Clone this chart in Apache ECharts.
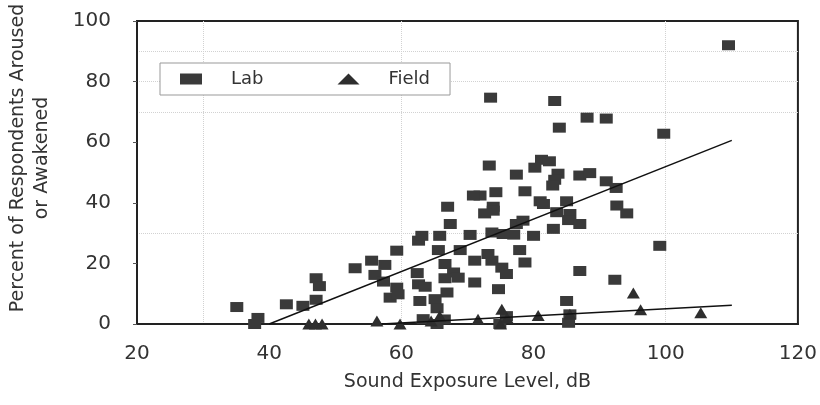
<!DOCTYPE html>
<html>
<head>
<meta charset="utf-8">
<script src="https://cdn.jsdelivr.net/npm/echarts@6/dist/echarts.min.js"></script>
<style>html,body{margin:0;padding:0;background:#fff}#c{width:820px;height:405px}</style>
</head>
<body>
<div id="c"></div>
<script>
// Lab (squares)
const labX = [35.1, 38.3, 37.8, 42.6, 45.1, 47.1, 47.1, 47.6, 53.0, 55.5, 57.5, 56.0, 57.3, 59.3, 58.3, 59.5, 59.3, 62.6, 63.1, 65.8,
  65.6, 68.9, 67.0, 67.4, 70.4, 71.1, 66.6, 67.9, 62.4, 66.6, 68.6, 71.1, 62.6, 63.6, 66.9, 62.8, 65.1, 65.4, 63.3, 65.4,
  66.5, 73.5, 83.2, 88.1, 91.0, 83.9, 73.3, 81.2, 82.4, 80.2, 77.4, 83.7, 83.2, 87.0, 88.5, 91.0, 92.5, 82.9, 78.7, 74.3,
  71.9, 70.9, 81.0, 85.0, 92.6, 73.9, 73.9, 72.6, 81.5, 83.5, 85.5, 85.3, 87.0, 77.4, 78.4, 83.0, 73.7, 75.4, 77.0, 80.0,
  77.9, 73.1, 73.7, 78.7, 75.2, 75.9, 87.0, 74.7, 92.3, 85.0, 85.5, 85.3, 74.9, 75.9, 109.5, 99.7, 94.1, 99.1];
const labY = [5.6, 2.0, 0.0, 6.5, 6.0, 8.0, 15.1, 12.5, 18.4, 20.9, 19.5, 16.2, 14.0, 12.0, 8.7, 9.8, 24.2, 27.5, 29.1, 29.1,
  24.4, 24.4, 38.7, 33.0, 29.4, 20.9, 19.8, 17.0, 16.8, 15.1, 15.3, 13.7, 13.1, 12.3, 10.4, 7.6, 8.2, 5.2, 1.6, 0.0,
  1.5, 74.7, 73.6, 68.1, 67.8, 64.8, 52.3, 54.2, 53.7, 51.6, 49.3, 49.6, 47.6, 49.0, 49.8, 47.1, 44.9, 45.7, 43.8, 43.5,
  42.4, 42.4, 40.5, 40.5, 39.1, 38.7, 37.4, 36.5, 39.6, 36.9, 36.3, 34.3, 33.0, 33.0, 34.1, 31.4, 30.2, 29.7, 29.5, 29.1,
  24.4, 23.1, 20.9, 20.3, 18.6, 16.5, 17.5, 11.5, 14.6, 7.6, 3.2, 0.4, 0.0, 2.6, 92.0, 62.8, 36.5, 25.8];
// Field (triangles)
const fieldX = [46.0, 47.0, 48.0, 56.3, 59.8, 64.5, 65.8, 71.6, 75.2, 75.0, 76.0, 80.7, 85.5, 95.1, 96.2, 105.3];
const fieldY = [0.0, 0.0, 0.0, 1.0, 0.0, 1.0, 2.6, 1.6, 4.9, 0.0, 2.0, 2.8, 3.2, 10.2, 4.7, 3.7];
// Fitted lines
const labFitX = [40, 110];
const labFitY = [0, 60.6];
const fieldFitX = [57, 110];
const fieldFitY = [0, 6.2];
// Axis ticks
const xTicks = [20, 40, 60, 80, 100, 120];
const yTicks = [0, 20, 40, 60, 80, 100];
// faint background guide lines seen in the scan
const vGuides = [30, 60, 100];
const hGuides = [30, 70, 80, 90];

const pairs = (xs, ys) => xs.map((x, i) => [x, ys[i]]);
const font = 'DejaVu Sans';

const chart = echarts.init(document.getElementById('c'), null, {renderer: 'canvas'});
chart.setOption({
  animation: false,
  backgroundColor: '#ffffff',
  grid: {left: 137, right: 22, top: 21, bottom: 81, show: true, borderColor: '#222', borderWidth: 2, backgroundColor: 'transparent'},
  legend: {
    left: 160, top: 63, orient: 'horizontal', z: 10,
    padding: [7, 20, 7, 20], itemGap: 74,
    itemWidth: 22, itemHeight: 11,
    borderColor: '#999', borderWidth: 1, backgroundColor: '#fff',
    textStyle: {fontFamily: font, fontSize: 18, color: '#333', padding: [0, 0, 0, 24]},
    data: [{name: 'Lab', icon: 'rect'}, {name: 'Field', icon: 'triangle'}]
  },
  xAxis: {
    type: 'value', min: xTicks[0], max: xTicks[xTicks.length - 1], interval: 20,
    name: 'Sound Exposure Level, dB', nameLocation: 'middle', nameGap: 49,
    nameTextStyle: {fontFamily: font, fontSize: 19, color: '#333'},
    axisLine: {show: true, onZero: false, lineStyle: {color: '#222', width: 2}},
    axisTick: {show: false},
    axisLabel: {fontFamily: font, fontSize: 20, color: '#333', margin: 20},
    splitLine: {show: false}
  },
  yAxis: {
    type: 'value', min: yTicks[0], max: yTicks[yTicks.length - 1], interval: 20,
    axisLine: {show: true, lineStyle: {color: '#222', width: 2}},
    axisTick: {show: true, inside: false, length: 4, lineStyle: {color: '#555'}},
    axisLabel: {fontFamily: font, fontSize: 20, color: '#333', margin: 26},
    splitLine: {show: false}
  },
  graphic: [{
    type: 'text', x: 30, y: 158, rotation: Math.PI / 2,
    style: {text: 'Percent of Respondents Aroused\nor Awakened', fontFamily: font, fontSize: 19, fill: '#333',
      align: 'center', verticalAlign: 'middle', lineHeight: 24}
  }],
  series: [
    {
      name: 'guides', type: 'line', data: [], silent: true, z: 0,
      markLine: {
        silent: true, symbol: 'none', label: {show: false}, z: 0,
        lineStyle: {color: '#d2d2d2', type: 'dotted', width: 1},
        data: vGuides.map(v => ({xAxis: v})).concat(hGuides.map(v => ({yAxis: v})))
      }
    },
    {
      name: 'Lab', type: 'scatter', symbol: 'rect', symbolSize: [13, 10],
      itemStyle: {color: '#3a3a3a', opacity: 1}, data: pairs(labX, labY), z: 5
    },
    {
      name: 'Field', type: 'scatter', symbol: 'triangle', symbolSize: [13, 11],
      itemStyle: {color: '#2e2e2e', opacity: 1}, data: pairs(fieldX, fieldY), z: 5
    },
    {
      name: 'LabFit', type: 'line', symbol: 'none', data: pairs(labFitX, labFitY),
      lineStyle: {color: '#111', width: 1.5}, z: 6
    },
    {
      name: 'FieldFit', type: 'line', symbol: 'none', data: pairs(fieldFitX, fieldFitY),
      lineStyle: {color: '#111', width: 1.5}, z: 6
    }
  ]
});
</script>
</body>
</html>
